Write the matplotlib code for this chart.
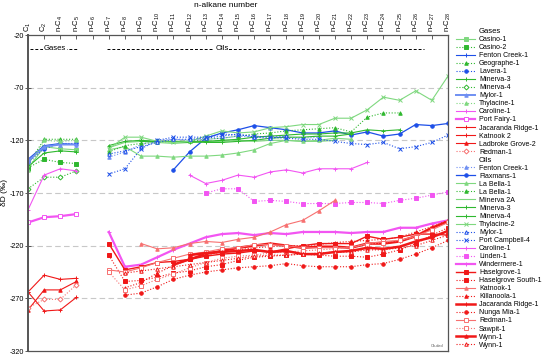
import numpy as np
import matplotlib
matplotlib.use("Agg")
import matplotlib.pyplot as plt
from matplotlib.lines import Line2D

plt.rcParams['font.family'] = ['Liberation Sans', 'DejaVu Sans']
plt.rcParams['mathtext.fontset'] = 'custom'
plt.rcParams['mathtext.rm'] = 'Liberation Sans'
plt.rcParams['mathtext.it'] = 'Liberation Sans:italic'

# x categories (top axis)
tick_labels = ["C$_1$", "C$_2$"] + ["n-C$_{%d}$" % n for n in range(4, 29)]
y_ticks = [-320, -270, -220, -170, -120, -70, -20]
grid_levels = [-270, -220, -170, -120, -70]

# gases: values at C1, C2, n-C4, n-C5
gas_names = ["Casino-1", "Casino-2", "Fenton Creek-1", "Geographe-1", "Lavera-1",
             "Minerva-3", "Minerva-4", "Mylor-1", "Thylacine-1", "Caroline-1",
             "Port Fairy-1", "Jacaranda Ridge-1", "Katnook 2", "Ladbroke Grove-2", "Redman-1"]
gas_casino1 = [-147, -126, -128, -129]
gas_casino2 = [-146, -138, -141, -142]
gas_fenton = [-138, -125, -123, -124]
gas_geographe = [-143, -119, -119, -119]
gas_lavera = [-141, -128, -123, -123]
gas_minerva3 = [-145, -132, -130, -131]
gas_minerva4 = [-166, -155, -155, -149]
gas_mylor = [-140, -126, -124, -124]
gas_thylacine = [-148, -120, -121, -120]
gas_caroline = [-186, -153, -147, -149]
gas_portfairy = [-198, -193, -192, -190]
gas_jacaranda = [-264, -248, -252, -251]
gas_katnook = [-264, -282, -281, -269]
gas_ladbroke = [-281, -262, -262, -254]
gas_redman = [-279, -271, -271, -257]

# oils: values at n-C7 .. n-C28 (None = not measured)
N = None
oil_names = ["Fenton Creek-1", "Flaxmans-1", "La Bella-1", "La Bella-1", "Minerva 2A",
             "Minerva-3", "Minerva-4", "Thylacine-2", "Mylor-1", "Port Campbell-4",
             "Caroline-1", "Linden-1", "Windermere-1", "Haselgrove-1", "Haselgrove South-1",
             "Katnook-1", "Killanoola-1", "Jacaranda Ridge-1", "Nunga Mia-1", "Redman-1",
             "Sawpit-1", "Wynn-1", "Wynn-1"]
oil_fenton = [-136, -131, -124, -120, -119, -120, -119, -118, -116, -117, -116, -117, -118, -117, N, N, N, N, N, N, N, N]
oil_flaxmans = [N, N, N, N, -148, -131, -118, -113, -110, -106, -108, -110, -113, -113, -111, -115, -112, -116, -114, -105, -106, -104]
oil_labella_a = [-129, -126, -135, -135, -136, -135, -135, -134, -132, -129, -123, -120, -121, -120, -118, -119, N, N, N, N, N, N]
oil_labella_b = [-131, -125, -123, -122, -121, -121, -119, -118, -116, -114, -113, -111, -110, -109, -108, -112, -98, -94, -94, N, N, N]
oil_minerva2a = [-127, -122, -121, -122, -123, -122, -121, -121, -120, -121, -120, -120, -121, -121, -120, N, N, N, N, N, N, N]
oil_minerva3 = [-125, -121, -120, -121, -121, -121, -122, -122, -121, -120, -118, -117, -117, -116, -116, -114, N, N, N, N, N, N]
oil_minerva4 = [N, N, -121, -121, -121, -122, -121, -120, -119, -117, -116, -115, -114, -114, -113, -113, -110, -111, -110, N, N, N]
oil_thylacine2 = [-128, -117, -117, -121, -122, -121, -116, -111, -113, -112, -108, -107, -105, -105, -99, -99, -91, -79, -82, -73, -82, -59]
oil_mylor = [-133, -130, -126, -122, -119, -119, -118, -116, -114, -117, -118, -116, N, N, N, N, N, N, N, N, N, N]
oil_portcampbell = [-152, -147, -128, -120, -117, -117, -117, -114, -115, -116, -117, -118, -119, -119, -121, -123, -124, -122, -128, -126, -122, -115]
oil_caroline = [N, N, N, N, N, -153, -161, -158, -153, -155, -150, -148, -151, -147, -147, -147, -141, N, N, N, N, N]
oil_linden = [N, N, N, N, N, N, -170, -166, -166, -178, -177, -178, -180, -180, -180, -179, -179, -180, -177, -175, -172, -169]
oil_windermere = [-207, -240, -238, -231, -224, -218, -212, -209, -208, -210, -208, -209, -207, -207, -207, -208, -207, -207, -203, -203, -199, -196]
oil_haselgrove = [-218, -243, -240, -236, -235, -233, -230, -228, -227, -225, -226, -223, -220, -218, -218, -218, -211, -214, -212, -209, -209, -210]
oil_haselgrove_s = [-229, -254, -253, -250, -246, -244, -240, -238, -234, -231, -230, -229, -228, -229, -230, -230, -231, -228, -224, -218, -210, -203]
oil_katnook = [N, N, -218, -223, -222, -218, -216, -217, -214, -212, -207, -200, -196, -187, -177, N, N, N, N, N, N, N]
oil_killanoola = [N, -260, -255, -246, -239, -233, -229, -226, -224, -222, -221, -220, -220, -219, -217, -216, -215, -214, -212, -207, -202, -196]
oil_jacaranda = [N, N, N, N, -238, -233, -228, -225, -222, -220, -218, -220, -222, -221, -221, -222, -218, -218, -216, -211, -203, -197]
oil_nungamia = [N, -267, -265, -259, -252, -248, -245, -243, -241, -240, -239, -237, -239, -240, -240, -240, -238, -237, -233, -228, -222, -215]
oil_redman = [-243, -245, -241, -236, -232, -228, -226, -223, -222, -219, -219, -220, -222, -222, -222, -222, -218, -216, -215, -211, -205, -198]
oil_sawpit = [-245, -262, -258, -252, -247, -241, -236, -232, -230, -229, -227, -226, -225, -224, -223, -221, -219, -217, -215, -212, N, N]
oil_wynn_a = [N, N, N, N, N, -229, -227, -226, -225, -224, -226, -225, -228, -228, -226, -225, -222, -223, -221, -216, -212, -206]
oil_wynn_b = [N, -246, -244, -242, -240, -238, -236, -234, -232, -230, -229, -229, -228, -227, -226, -226, -224, -224, -222, -220, -215, -210]

gas_series = [gas_casino1, gas_casino2, gas_fenton, gas_geographe, gas_lavera, gas_minerva3,
              gas_minerva4, gas_mylor, gas_thylacine, gas_caroline, gas_portfairy,
              gas_jacaranda, gas_katnook, gas_ladbroke, gas_redman]
oil_series = [oil_fenton, oil_flaxmans, oil_labella_a, oil_labella_b, oil_minerva2a,
              oil_minerva3, oil_minerva4, oil_thylacine2, oil_mylor, oil_portcampbell,
              oil_caroline, oil_linden, oil_windermere, oil_haselgrove, oil_haselgrove_s,
              oil_katnook, oil_killanoola, oil_jacaranda, oil_nungamia, oil_redman,
              oil_sawpit, oil_wynn_a, oil_wynn_b]

G, LG = '#2fb82f', '#7fd87f'
B, LB = '#1d4fe8', '#6f8ff2'
M = '#f255f2'
R, LR = '#f01818', '#f77070'
DOT = (0, (1, 1.6))

# (colour, linestyle, marker, filled, linewidth)
gas_styles = [
    (LG, '-', 's', True, 0.8), (G, DOT, 's', True, 0.8), (B, '-', '+', True, 0.8),
    (G, DOT, '^', True, 0.8), (B, DOT, 'o', True, 0.8), (G, '-', '+', True, 0.8),
    (G, DOT, 'D', False, 0.8), (LB, '-', '^', True, 1.4), (LG, DOT, '^', True, 0.8),
    (M, '-', '+', True, 0.8), (M, '-', 's', False, 1.6), (R, '-', '+', True, 0.8),
    (R, '-', '+', True, 0.8), (R, '-', '^', True, 0.8), (LR, DOT, 'D', False, 0.8),
]
oil_styles = [
    (LB, DOT, '^', True, 0.8), (B, '-', 'o', True, 0.9), (LG, '-', '^', True, 0.8),
    (G, DOT, '^', True, 0.8), (LG, '-', '', True, 0.8), (G, '-', '+', True, 0.8),
    (G, '-', '+', True, 0.8), (LG, '-', 'x', True, 0.8), (B, DOT, '^', False, 0.8),
    (B, DOT, 'x', True, 0.8), (M, '-', '+', True, 0.8), (M, DOT, 's', True, 0.8),
    (M, '-', '+', True, 1.6), (R, '-', 's', True, 1.0), (R, DOT, 's', True, 0.8),
    (LR, '-', '^', True, 0.8), (R, DOT, '^', True, 0.8), (R, '-', '+', True, 1.8),
    (R, DOT, 'o', True, 0.8), (LR, '-', 's', False, 0.8), (LR, DOT, 's', False, 0.8),
    (R, '-', '^', True, 1.8), (R, DOT, '^', False, 0.8),
]

fig = plt.figure(figsize=(5.5, 3.55), dpi=100)
ax = fig.add_axes([28 / 550, 4 / 355, 420 / 550, 316 / 355])

xpos = np.arange(len(tick_labels))
gas_x = xpos[0:4]
oil_x = xpos[5:27]


def draw(xs, values, style, label):
    color, ls, marker, filled, lw = style
    ys = np.array([np.nan if v is None else v for v in values], dtype=float)
    line, = ax.plot(xs, ys, color=color, linestyle=ls, linewidth=lw, marker=marker or None,
                    markersize=2.5, markeredgewidth=0.7,
                    markerfacecolor=color if filled else 'white',
                    markeredgecolor=color, label=label)
    return line


gas_handles = [draw(gas_x, v, s, n) for v, s, n in zip(gas_series, gas_styles, gas_names)]
oil_handles = [draw(oil_x, v, s, n) for v, s, n in zip(oil_series, oil_styles, oil_names)]

for lev in grid_levels:
    ax.axhline(lev, color='#c8c8c8', linestyle=(0, (5, 3)), linewidth=0.8, zorder=0)

ax.set_xlim(0, 26)
ax.set_ylim(-320, -20)
ax.set_yticks(y_ticks)
ax.set_yticklabels([str(t) for t in y_ticks], fontsize=5.2)
ax.xaxis.tick_top()
ax.set_xticks(xpos)
ax.set_xticklabels(tick_labels, rotation=90, fontsize=5.5)
ax.tick_params(axis='x', direction='in', length=3, width=0.6, color='#444444', pad=2)
ax.tick_params(axis='y', direction='inout', length=4, width=0.6, color='#444444', pad=1)
for side, sp in ax.spines.items():
    sp.set_color('#555555')
    sp.set_linewidth(1.4 if side == 'left' else 0.9)

ax.set_ylabel("δD (‰)", fontsize=6)
ax.yaxis.set_label_coords(-0.048, 0.5)
ax.text(0.47, 1.094, "n-alkane number", transform=ax.transAxes, ha='center', va='center', fontsize=6)

# Gases / Oils brackets
ax.plot([0.1, 3.1], [-33, -33], color='black', linestyle=(0, (3, 2)), linewidth=0.7)
ax.text(1.65, -33, "Gases", ha='center', va='center', fontsize=5.5,
        bbox=dict(fc='white', ec='none', pad=0.6))
ax.plot([4.9, 24.5], [-33, -33], color='black', linestyle=(0, (3, 2)), linewidth=0.7)
ax.text(12.0, -33, "Oils", ha='center', va='center', fontsize=5.5,
        bbox=dict(fc='white', ec='none', pad=0.6))

ax.text(0.99, 0.008, "Ch-ded", transform=ax.transAxes, ha='right', va='bottom',
        fontsize=2.8, color='#555555')

header = Line2D([], [], linestyle='none')
handles = [header] + gas_handles + [header] + oil_handles
labels = ["Gases"] + gas_names + ["Oils"] + oil_names
leg = fig.legend(handles, labels, loc='upper left', bbox_to_anchor=(456 / 550, 1 - 28 / 355),
                 frameon=False, fontsize=5, handlelength=2.8, handletextpad=0.5,
                 labelspacing=0.15, borderaxespad=0, borderpad=0)
for txt in leg.get_texts():
    if txt.get_text() in ("Gases", "Oils"):
        txt.set_fontsize(5.5)

fig.savefig("out.png", dpi=100)
